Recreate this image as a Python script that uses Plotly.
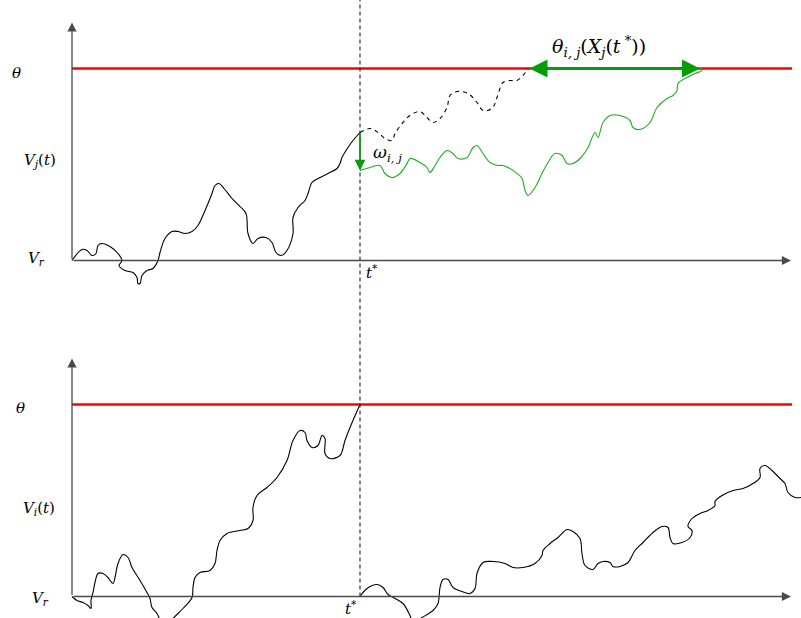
import plotly.graph_objects as go
from plotly.subplots import make_subplots

# ---------------- data (time units, voltage units; V_r = 0, theta = 192, t* = 288) -------------
THETA = 192
T_STAR = 288

# top panel: neuron j before t*
tj_pre = [0, 10, 15, 20, 24, 26, 30, 38, 46, 50, 47, 53, 61, 65, 66, 68, 70, 75, 81, 86, 88, 93,
          100, 106, 113, 120, 126, 130, 136, 140, 143, 147, 152, 160, 168, 174, 176, 181, 186, 194,
          200, 204, 209, 215, 221, 221, 226, 233, 236, 240, 246, 256, 265, 268, 270, 276, 281, 288]
vj_pre = [0, 11, 10, 5, 7, 15, 17, 14, 7, 0, -5, -10, -12, -17, -23, -23, -15, -10, -8, 0, 8, 22,
          29, 29, 27, 29, 35, 43, 57, 67, 75, 77, 72, 62, 54, 47, 27, 17, 22, 23,
          18, 8, 5, 10, 27, 43, 53, 60, 67, 78, 82, 87, 92, 97, 103, 113, 120, 128]

# top panel: hypothetical path without the kick (dashed)
tj_free = [288, 298, 306, 313, 320, 323, 330, 338, 348, 355, 361, 368, 375, 378, 385, 396, 405,
           411, 420, 425, 431, 438, 445, 455, 456]
vj_free = [128, 132, 128, 122, 120, 127, 137, 145, 149, 143, 138, 142, 153, 165, 169, 167, 158,
           150, 152, 163, 178, 180, 180, 190, 192]

# top panel: path after the kick omega_ij (green)
tj_post = [288, 298, 308, 313, 320, 328, 335, 338, 348, 355, 358, 363, 368, 375, 381, 386, 395,
           401, 405, 411, 418, 426, 431, 441, 450, 453, 456, 463, 470, 476, 483, 490, 495, 501,
           508, 516, 523, 526, 531, 538, 548, 558, 561, 568, 578, 585, 595, 601, 605, 606, 615,
           623, 630, 628]
vj_post = [90, 93, 95, 87, 83, 87, 97, 102, 98, 93, 88, 95, 103, 110, 107, 102, 103,
           113, 115, 107, 98, 95, 95, 90, 82, 70, 65, 73, 87, 98, 107, 105, 97, 97,
           102, 113, 128, 123, 138, 145, 145, 140, 133, 131, 138, 153, 162, 165, 170, 177, 183,
           187, 190, 192]

# bottom panel: neuron i before it fires at t*
ti_pre = [0, 5, 11, 16, 19, 19, 21, 23, 26, 31, 36, 41, 43, 46, 51, 56, 60, 68, 75, 78, 80, 85,
          93, 101, 111, 120, 121, 123, 128, 138, 143, 145, 148, 155, 168, 176, 181, 181, 185, 195,
          205, 215, 221, 228, 233, 235, 240, 246, 250, 253, 253, 258, 268, 273, 278, 288]
vi_pre = [0, -4, -6, -9, -12, -4, 4, 14, 23, 23, 19, 13, 19, 33, 42, 39, 29, 16, 4, -2, -11, -17,
          -32, -22, -12, -1, 9, 19, 24, 26, 33, 46, 56, 63, 66, 68, 76, 89, 101, 109,
          119, 136, 156, 166, 164, 156, 149, 151, 161, 158, 143, 138, 141, 156, 169, 192]

# bottom panel: neuron i after reset
ti_post = [288, 295, 305, 311, 316, 323, 331, 338, 341, 350, 361, 366, 368, 371, 376, 381, 390,
           398, 403, 405, 411, 421, 433, 441, 451, 463, 470, 471, 478, 486, 495, 501, 508, 510,
           513, 521, 526, 531, 538, 541, 548, 556, 563, 571, 581, 590, 596, 598, 601, 610, 618,
           620, 616, 620, 628, 636, 643, 643, 650, 661, 671, 681, 688, 688, 693, 700, 708, 713,
           716, 723, 729]
vi_post = [0, 8, 12, 9, 2, -2, -7, -19, -26, -21, -14, -7, 9, 17, 17, 9, 5,
           3, 8, 23, 34, 35, 33, 29, 29, 33, 41, 46, 53, 59, 67, 65, 58, 43,
           31, 27, 33, 35, 34, 30, 30, 34, 46, 54, 64, 70, 69, 59, 53, 54, 59,
           66, 70, 78, 83, 86, 91, 95, 101, 106, 108, 113, 119, 128, 131, 126, 118, 113,
           104, 99, 99]

# ---------------- layout constants (pixel geometry of the diagram) ----------------
W, H = 801, 618
X_ORIGIN_PX = 72
TOP_ORIGIN_PX = 260.5
BOT_ORIGIN_PX = 596.5
SPLIT_PX = 309
X_RANGE = [-X_ORIGIN_PX, W - X_ORIGIN_PX]
TOP_RANGE = [TOP_ORIGIN_PX - SPLIT_PX, TOP_ORIGIN_PX]
BOT_RANGE = [BOT_ORIGIN_PX - H, BOT_ORIGIN_PX - SPLIT_PX]
T_AXIS_END = 719
V_AXIS_END = 238
T_RED_END = 720

BLACK = "#000000"
AXIS = "#4a4a4a"
RED = "#ff0000"
GREEN_LINE = "#22aa22"
GREEN_ARROW = "#089c08"
FONT = "DejaVu Serif"

fig = make_subplots(rows=2, cols=1, vertical_spacing=0)

line_kw = dict(shape="spline", smoothing=1.0)

# threshold lines
for r in (1, 2):
    fig.add_trace(go.Scatter(x=[0, T_RED_END], y=[THETA, THETA], mode="lines",
                             line=dict(color=RED, width=2.6), hoverinfo="skip"), row=r, col=1)

fig.add_trace(go.Scatter(x=tj_pre, y=vj_pre, mode="lines",
                         line=dict(color=BLACK, width=1.1, **line_kw)), row=1, col=1)
fig.add_trace(go.Scatter(x=tj_free, y=vj_free, mode="lines",
                         line=dict(color=BLACK, width=1.1, dash="4px,4px", **line_kw)), row=1, col=1)
fig.add_trace(go.Scatter(x=tj_post, y=vj_post, mode="lines",
                         line=dict(color=GREEN_LINE, width=1.1, **line_kw)), row=1, col=1)
fig.add_trace(go.Scatter(x=ti_pre, y=vi_pre, mode="lines",
                         line=dict(color=BLACK, width=1.1, **line_kw)), row=2, col=1)
fig.add_trace(go.Scatter(x=ti_post, y=vi_post, mode="lines",
                         line=dict(color=BLACK, width=1.1, **line_kw)), row=2, col=1)

ann = []
# axes arrows
for xr, yr in (("x", "y"), ("x2", "y2")):
    ann.append(dict(x=T_AXIS_END, y=0, ax=0, ay=0, xref=xr, yref=yr, axref=xr, ayref=yr,
                    text="", showarrow=True, arrowhead=2, arrowsize=1.4, arrowwidth=1.3,
                    arrowcolor=AXIS))
    ann.append(dict(x=0, y=V_AXIS_END, ax=0, ay=0, xref=xr, yref=yr, axref=xr, ayref=yr,
                    text="", showarrow=True, arrowhead=2, arrowsize=1.4, arrowwidth=1.3,
                    arrowcolor=AXIS))

# kick arrow omega_ij
ann.append(dict(x=T_STAR, y=vj_post[0], ax=T_STAR, ay=vj_pre[-1], xref="x", yref="y",
                axref="x", ayref="y", text="", showarrow=True, arrowhead=2, arrowsize=1.2,
                arrowwidth=1.8, arrowcolor=GREEN_ARROW))
# threshold-shift double arrow
ann.append(dict(x=tj_post[-1], y=THETA, ax=tj_free[-1], ay=THETA, xref="x", yref="y",
                axref="x", ayref="y", text="", showarrow=True, arrowhead=2, startarrowhead=2,
                arrowside="end+start", arrowsize=1.2, startarrowsize=1.2, arrowwidth=3,
                arrowcolor=GREEN_ARROW))

def label(text, x, y, xref, yref, size=15, xanchor="center"):
    ann.append(dict(text=text, x=x, y=y, xref=xref, yref=yref, showarrow=False,
                    xanchor=xanchor, yanchor="middle",
                    font=dict(family=FONT, size=size, color=BLACK)))

label("<i>θ</i>", -56, THETA - 4, "x", "y")
label("<i>V</i><sub><i>j</i></sub>(<i>t</i>)", -32, 100, "x", "y")
label("<i>V</i><sub><i>r</i></sub>", -36, 2, "x", "y")
label("<i>t</i><sup>*</sup>", T_STAR + 12, -11, "x", "y")
label("<i>ω</i><sub><i>i, j</i></sub>", T_STAR + 11, 107, "x", "y", size=17, xanchor="left")
label("<i>θ</i><sub><i>i, j</i></sub>(<i>X</i><sub><i>j</i></sub>(<i>t</i><sup> *</sup>))",
      527, 214, "x", "y", size=19)

label("<i>θ</i>", -52, THETA - 3, "x2", "y2")
label("<i>V</i><sub><i>i</i></sub>(<i>t</i>)", -33, 88, "x2", "y2")
label("<i>V</i><sub><i>r</i></sub>", -32, -2, "x2", "y2")
label("<i>t</i><sup>*</sup>", T_STAR - 9, -11, "x2", "y2")

shapes = [dict(type="line", xref="x", yref="paper", x0=T_STAR, x1=T_STAR,
               y0=(H - BOT_ORIGIN_PX) / H, y1=1,
               line=dict(color="#222222", width=1.1, dash="4px,3px"))]

axis_kw = dict(visible=False, showgrid=False, zeroline=False, fixedrange=True)
fig.update_xaxes(range=X_RANGE, domain=[0, 1], **axis_kw)
fig.update_layout(
    width=W, height=H, margin=dict(l=0, r=0, t=0, b=0),
    showlegend=False, plot_bgcolor="white", paper_bgcolor="white",
    yaxis=dict(range=TOP_RANGE, domain=[1 - SPLIT_PX / H, 1], **axis_kw),
    yaxis2=dict(range=BOT_RANGE, domain=[0, 1 - SPLIT_PX / H], **axis_kw),
    annotations=ann, shapes=shapes,
)

fig.write_html("out.html")
